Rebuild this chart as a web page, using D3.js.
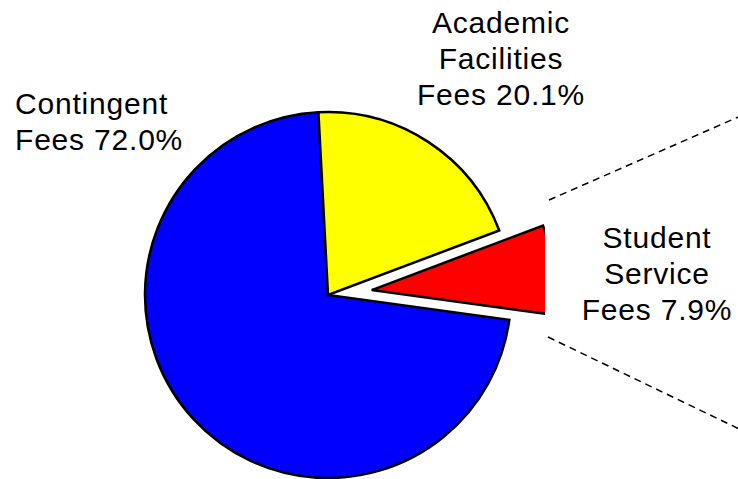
<!DOCTYPE html>
<html>
<head>
<meta charset="utf-8">
<script src="https://cdn.jsdelivr.net/npm/d3@7"></script>
<style>
  body { margin: 0; background: #fff; }
  text { font-family: "Liberation Sans", Arial, sans-serif; font-size: 30px; letter-spacing: 0.8px; fill: #000; }
</style>
</head>
<body>
<div id="chart"></div>
<script>
var categories = ["Contingent Fees", "Academic Facilities Fees", "Student Service Fees"];
var shares = [72.0, 20.1, 7.9];
var colors = ["#0000ff", "#ffff00", "#ff0000"];
var labelLines = [
  ["Contingent", "Fees 72.0%"],
  ["Academic", "Facilities", "Fees 20.1%"],
  ["Student", "Service", "Fees 7.9%"]
];

var width = 738, height = 479;
var cx = 328, cy = 295, radius = 183;
var explode = 44;          // red slice pulled out
var clipRight = 545;       // plot area edge, red slice is cut here
var lineGap = 36;

var svg = d3.select("#chart")
    .append("svg")
    .attr("width", width)
    .attr("height", height);

svg.append("clipPath")
    .attr("id", "plotClip")
    .append("rect")
    .attr("x", 0).attr("y", 0)
    .attr("width", clipRight).attr("height", height);

var start = 97.8 * Math.PI / 180;
var pie = d3.pie()
    .sort(null)
    .startAngle(start)
    .endAngle(start + 2 * Math.PI)
    .value(function(d) { return d; });

var arc = d3.arc().innerRadius(0).outerRadius(radius);

var g = svg.append("g")
    .attr("clip-path", "url(#plotClip)")
    .append("g")
    .attr("transform", "translate(" + cx + "," + cy + ")");

g.selectAll("path")
    .data(pie(shares))
    .enter()
    .append("path")
    .attr("d", arc)
    .attr("fill", function(d, i) { return colors[i]; })
    .attr("stroke", "#000")
    .attr("stroke-width", 2.5)
    .attr("stroke-linejoin", "miter")
    .attr("transform", function(d, i) {
      if (i !== 2) return null;
      var mid = (d.startAngle + d.endAngle) / 2;
      return "translate(" + (explode * Math.sin(mid)) + "," + (-explode * Math.cos(mid)) + ")";
    });

// connector lines toward the (off-screen) secondary pie
var connectors = [
  [[549, 200], [760, 107.5]],
  [[548, 337], [760, 439]]
];
svg.selectAll("line.conn")
    .data(connectors)
    .enter()
    .append("line")
    .attr("class", "conn")
    .attr("x1", function(d) { return d[0][0]; })
    .attr("y1", function(d) { return d[0][1]; })
    .attr("x2", function(d) { return d[1][0]; })
    .attr("y2", function(d) { return d[1][1]; })
    .attr("stroke", "#000")
    .attr("stroke-width", 1.5)
    .attr("stroke-dasharray", "7,5");

// labels
var labelPos = [
  {x: 15, y: 114, anchor: "start"},
  {x: 501, y: 33, anchor: "middle"},
  {x: 657, y: 248, anchor: "middle"}
];

labelLines.forEach(function(lines, i) {
  var t = svg.append("text")
      .attr("x", labelPos[i].x)
      .attr("y", labelPos[i].y)
      .attr("text-anchor", labelPos[i].anchor);
  lines.forEach(function(s, j) {
    t.append("tspan")
        .attr("x", labelPos[i].x)
        .attr("dy", j === 0 ? 0 : lineGap)
        .text(s);
  });
});
</script>
</body>
</html>
